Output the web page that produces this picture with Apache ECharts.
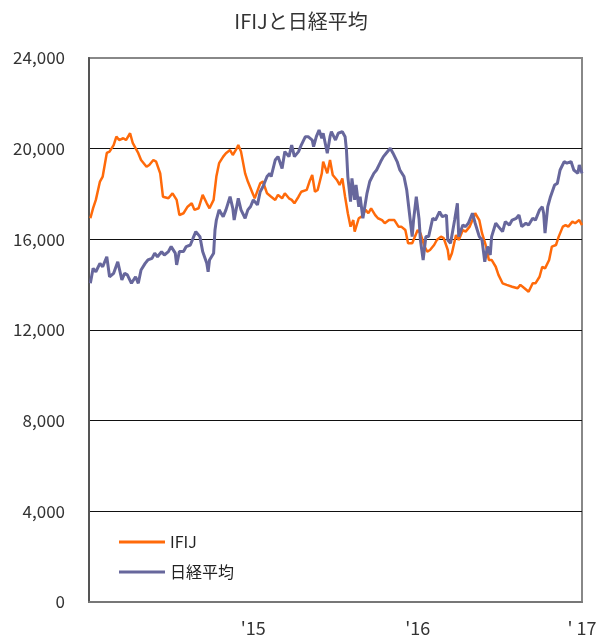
<!DOCTYPE html>
<html>
<head>
<meta charset="utf-8">
<script src="https://cdn.jsdelivr.net/npm/echarts@6/dist/echarts.min.js"></script>
<style>
  html, body { margin: 0; padding: 0; background: #fff; }
  #chart { width: 602px; height: 639px; }
</style>
</head>
<body>
<div id="chart"></div>
<script>
// x = months since Jan 2014
const ifij = [
  [0.1, 16930], [0.3, 17380], [0.5, 17740], [0.8, 18550], [1.0, 18770], [1.3, 19810], [1.5, 19870],
  [1.8, 20160], [2.0, 20530], [2.2, 20380], [2.5, 20460], [2.7, 20380], [3.0, 20680], [3.2, 20240],
  [3.6, 19800], [3.8, 19500], [4.2, 19200], [4.4, 19280], [4.7, 19500], [4.9, 19430], [5.2, 18910],
  [5.4, 17880], [5.8, 17810], [6.1, 18030], [6.4, 17740], [6.6, 17070], [6.9, 17150], [7.2, 17440],
  [7.5, 17590], [7.7, 17300], [8.0, 17370], [8.3, 17960], [8.6, 17590], [8.8, 17370], [9.1, 17740],
  [9.3, 18770], [9.5, 19360], [9.8, 19650], [10.0, 19800], [10.3, 19940], [10.5, 19720], [10.8, 20020],
  [10.9, 20160], [11.1, 19870], [11.4, 18910], [11.6, 18550], [12.0, 17960], [12.1, 17810], [12.5, 18470],
  [12.7, 18550], [13.0, 18030], [13.3, 17880], [13.6, 17740], [13.8, 17960], [14.1, 17810], [14.3, 18030],
  [14.6, 17810], [14.8, 17740], [15.0, 17590], [15.3, 17880], [15.5, 18100], [15.9, 18180], [16.1, 18550],
  [16.3, 18840], [16.5, 18100], [16.7, 18180], [17.0, 18910], [17.1, 19430], [17.4, 18910], [17.6, 19500],
  [17.8, 18840], [18.1, 18620], [18.3, 18400], [18.5, 18690], [18.7, 17880], [18.9, 17150], [19.1, 16560],
  [19.3, 16850], [19.4, 16340], [19.7, 16930], [19.9, 17000], [20.2, 17300], [20.4, 17150], [20.6, 17370],
  [20.9, 17070], [21.1, 16930], [21.4, 16850], [21.6, 16710], [21.9, 16850], [22.1, 16850], [22.3, 16850],
  [22.6, 16560], [22.8, 16560], [23.1, 16410], [23.3, 15830], [23.6, 15830], [23.7, 15830], [24.0, 16410],
  [24.2, 16270], [24.5, 15680], [24.7, 15460], [24.9, 15530], [25.2, 15750], [25.4, 15970], [25.7, 16120],
  [25.9, 16050], [26.2, 15530], [26.3, 15090], [26.5, 15390], [26.8, 16190], [27.0, 15970], [27.3, 16410],
  [27.5, 16340], [27.8, 16560], [28.0, 16850], [28.2, 17150], [28.5, 16850], [28.7, 16270], [29.0, 15680],
  [29.2, 15090], [29.4, 15090], [29.7, 14790], [29.9, 14430], [30.2, 14060], [30.5, 13990], [30.9, 13910],
  [31.3, 13840], [31.5, 13990], [31.8, 13840], [32.1, 13690], [32.4, 14060], [32.6, 14060], [32.9, 14350],
  [33.1, 14790], [33.3, 14720], [33.6, 15090], [33.8, 15680], [34.1, 15750], [34.3, 16120], [34.6, 16560],
  [34.8, 16630], [35.0, 16560], [35.3, 16780], [35.5, 16710], [35.8, 16850], [36.0, 16630]
]

const nikkei = [
  [0.1, 14060], [0.3, 14720], [0.5, 14570], [0.8, 14940], [1.0, 14790], [1.3, 15230], [1.5, 14350],
  [1.8, 14500], [2.1, 15010], [2.4, 14210], [2.6, 14500], [2.8, 14430], [3.1, 14060], [3.4, 14350],
  [3.6, 14060], [3.8, 14650], [4.1, 14940], [4.3, 15090], [4.6, 15160], [4.8, 15390], [5.0, 15230],
  [5.3, 15460], [5.5, 15310], [5.8, 15460], [6.0, 15680], [6.3, 15390], [6.4, 14870], [6.6, 15460],
  [6.9, 15460], [7.1, 15680], [7.4, 15750], [7.6, 16050], [7.8, 16340], [8.1, 16120], [8.3, 15460],
  [8.6, 14940], [8.7, 14570], [8.8, 15090], [9.1, 15390], [9.2, 16410], [9.3, 16850], [9.5, 17300],
  [9.8, 17000], [10.0, 17300], [10.3, 17880], [10.5, 17370], [10.6, 16850], [10.9, 17810], [11.1, 17300],
  [11.4, 16930], [11.6, 17300], [11.8, 17450], [12.0, 17740], [12.3, 17520], [12.5, 18100], [12.7, 18320],
  [13.0, 18770], [13.2, 18910], [13.3, 18770], [13.6, 19500], [13.8, 19650], [14.1, 19130], [14.3, 19870],
  [14.6, 19650], [14.8, 20160], [15.0, 19650], [15.3, 19870], [15.5, 20160], [15.8, 20530], [16.0, 20530],
  [16.3, 20380], [16.4, 20090], [16.6, 20530], [16.8, 20820], [17.0, 20460], [17.1, 20680], [17.4, 19800],
  [17.6, 20530], [17.7, 20750], [18.0, 20380], [18.2, 20680], [18.5, 20750], [18.7, 20530], [18.8, 19940],
  [18.9, 18770], [19.1, 17660], [19.2, 18690], [19.4, 17740], [19.5, 18400], [19.7, 17440], [19.8, 17880],
  [20.0, 16930], [20.3, 18030], [20.5, 18550], [20.8, 18910], [21.0, 19060], [21.3, 19430], [21.5, 19650],
  [21.7, 19800], [22.0, 20020], [22.2, 19800], [22.5, 19430], [22.7, 19060], [23.0, 18770], [23.2, 18180],
  [23.4, 17150], [23.6, 16120], [23.7, 16850], [23.9, 17880], [24.1, 16900], [24.2, 15970], [24.4, 15090],
  [24.6, 16120], [24.8, 16120], [25.1, 16930], [25.3, 16850], [25.6, 17220], [25.8, 17000], [26.1, 17070],
  [26.2, 15970], [26.4, 15830], [26.7, 16850], [26.9, 17590], [27.0, 16120], [27.3, 16630], [27.5, 16560],
  [27.7, 16710], [28.0, 17150], [28.2, 16710], [28.5, 16120], [28.7, 15970], [28.9, 15010], [29.1, 15680],
  [29.3, 15310], [29.4, 16120], [29.7, 16710], [29.9, 16560], [30.2, 16340], [30.4, 16780], [30.7, 16630],
  [30.9, 16850], [31.2, 16930], [31.4, 17070], [31.6, 16560], [31.9, 16710], [32.1, 16630], [32.4, 16930],
  [32.6, 16850], [32.9, 17300], [33.1, 17440], [33.2, 17150], [33.3, 16270], [33.5, 17440], [33.7, 17880],
  [34.0, 18400], [34.2, 18470], [34.4, 19060], [34.7, 19430], [34.9, 19360], [35.2, 19430], [35.4, 19060],
  [35.7, 18910], [35.8, 19280], [36.0, 18910]
]

const yearLabels = { 12: "'15", 24: "'16", 36: "' 17" }
const seriesNames = ['IFIJ', '日経平均']

const font = '"Noto Sans CJK JP", "Noto Sans", sans-serif'

function genOption () {
  return {
    animation: false,
    title: {
      text: 'IFIJと日経平均',
      left: 'center',
      top: 6,
      textStyle: { fontFamily: font, fontSize: 20, fontWeight: 'normal', color: '#333' }
    },
    legend: {
      orient: 'vertical',
      left: 114,
      top: 529,
      icon: 'rect',
      itemWidth: 46,
      itemHeight: 3,
      itemGap: 14,
      data: seriesNames,
      textStyle: { fontFamily: font, fontSize: 16, color: '#222' }
    },
    grid: {
      left: 89,
      right: 20,
      top: 58,
      bottom: 37,
      show: true,
      borderColor: '#888',
      borderWidth: 2
    },
    xAxis: {
      type: 'value',
      min: 0,
      max: 36,
      interval: 12,
      axisLine: { show: true, lineStyle: { color: '#777', width: 2 } },
      axisTick: { show: false },
      splitLine: { show: false },
      axisLabel: {
        margin: 17,
        fontFamily: font,
        fontSize: 18,
        color: '#333',
        formatter: function (v) { return yearLabels[v] || '' }
      }
    },
    yAxis: {
      type: 'value',
      min: 0,
      max: 24000,
      interval: 4000,
      axisLine: { show: true, lineStyle: { color: '#555', width: 2 } },
      axisTick: { show: false },
      splitLine: { show: true, showMinLine: false, showMaxLine: false, lineStyle: { color: '#111', width: 1 } },
      axisLabel: {
        margin: 24,
        fontFamily: font,
        fontSize: 17,
        color: '#333',
        formatter: function (v) { return v.toLocaleString('en-US') }
      }
    },
    series: [
      {
        name: seriesNames[0],
        type: 'line',
        data: ifij,
        symbol: 'none',
        lineStyle: { color: '#FF6A0A', width: 2.5 },
        itemStyle: { color: '#FF6A0A' }
      },
      {
        name: seriesNames[1],
        type: 'line',
        data: nikkei,
        symbol: 'none',
        lineStyle: { color: '#67679C', width: 3 },
        itemStyle: { color: '#67679C' }
      }
    ]
  }
}

const chart = echarts.init(document.getElementById('chart'))
chart.setOption(genOption())
</script>
</body>
</html>
